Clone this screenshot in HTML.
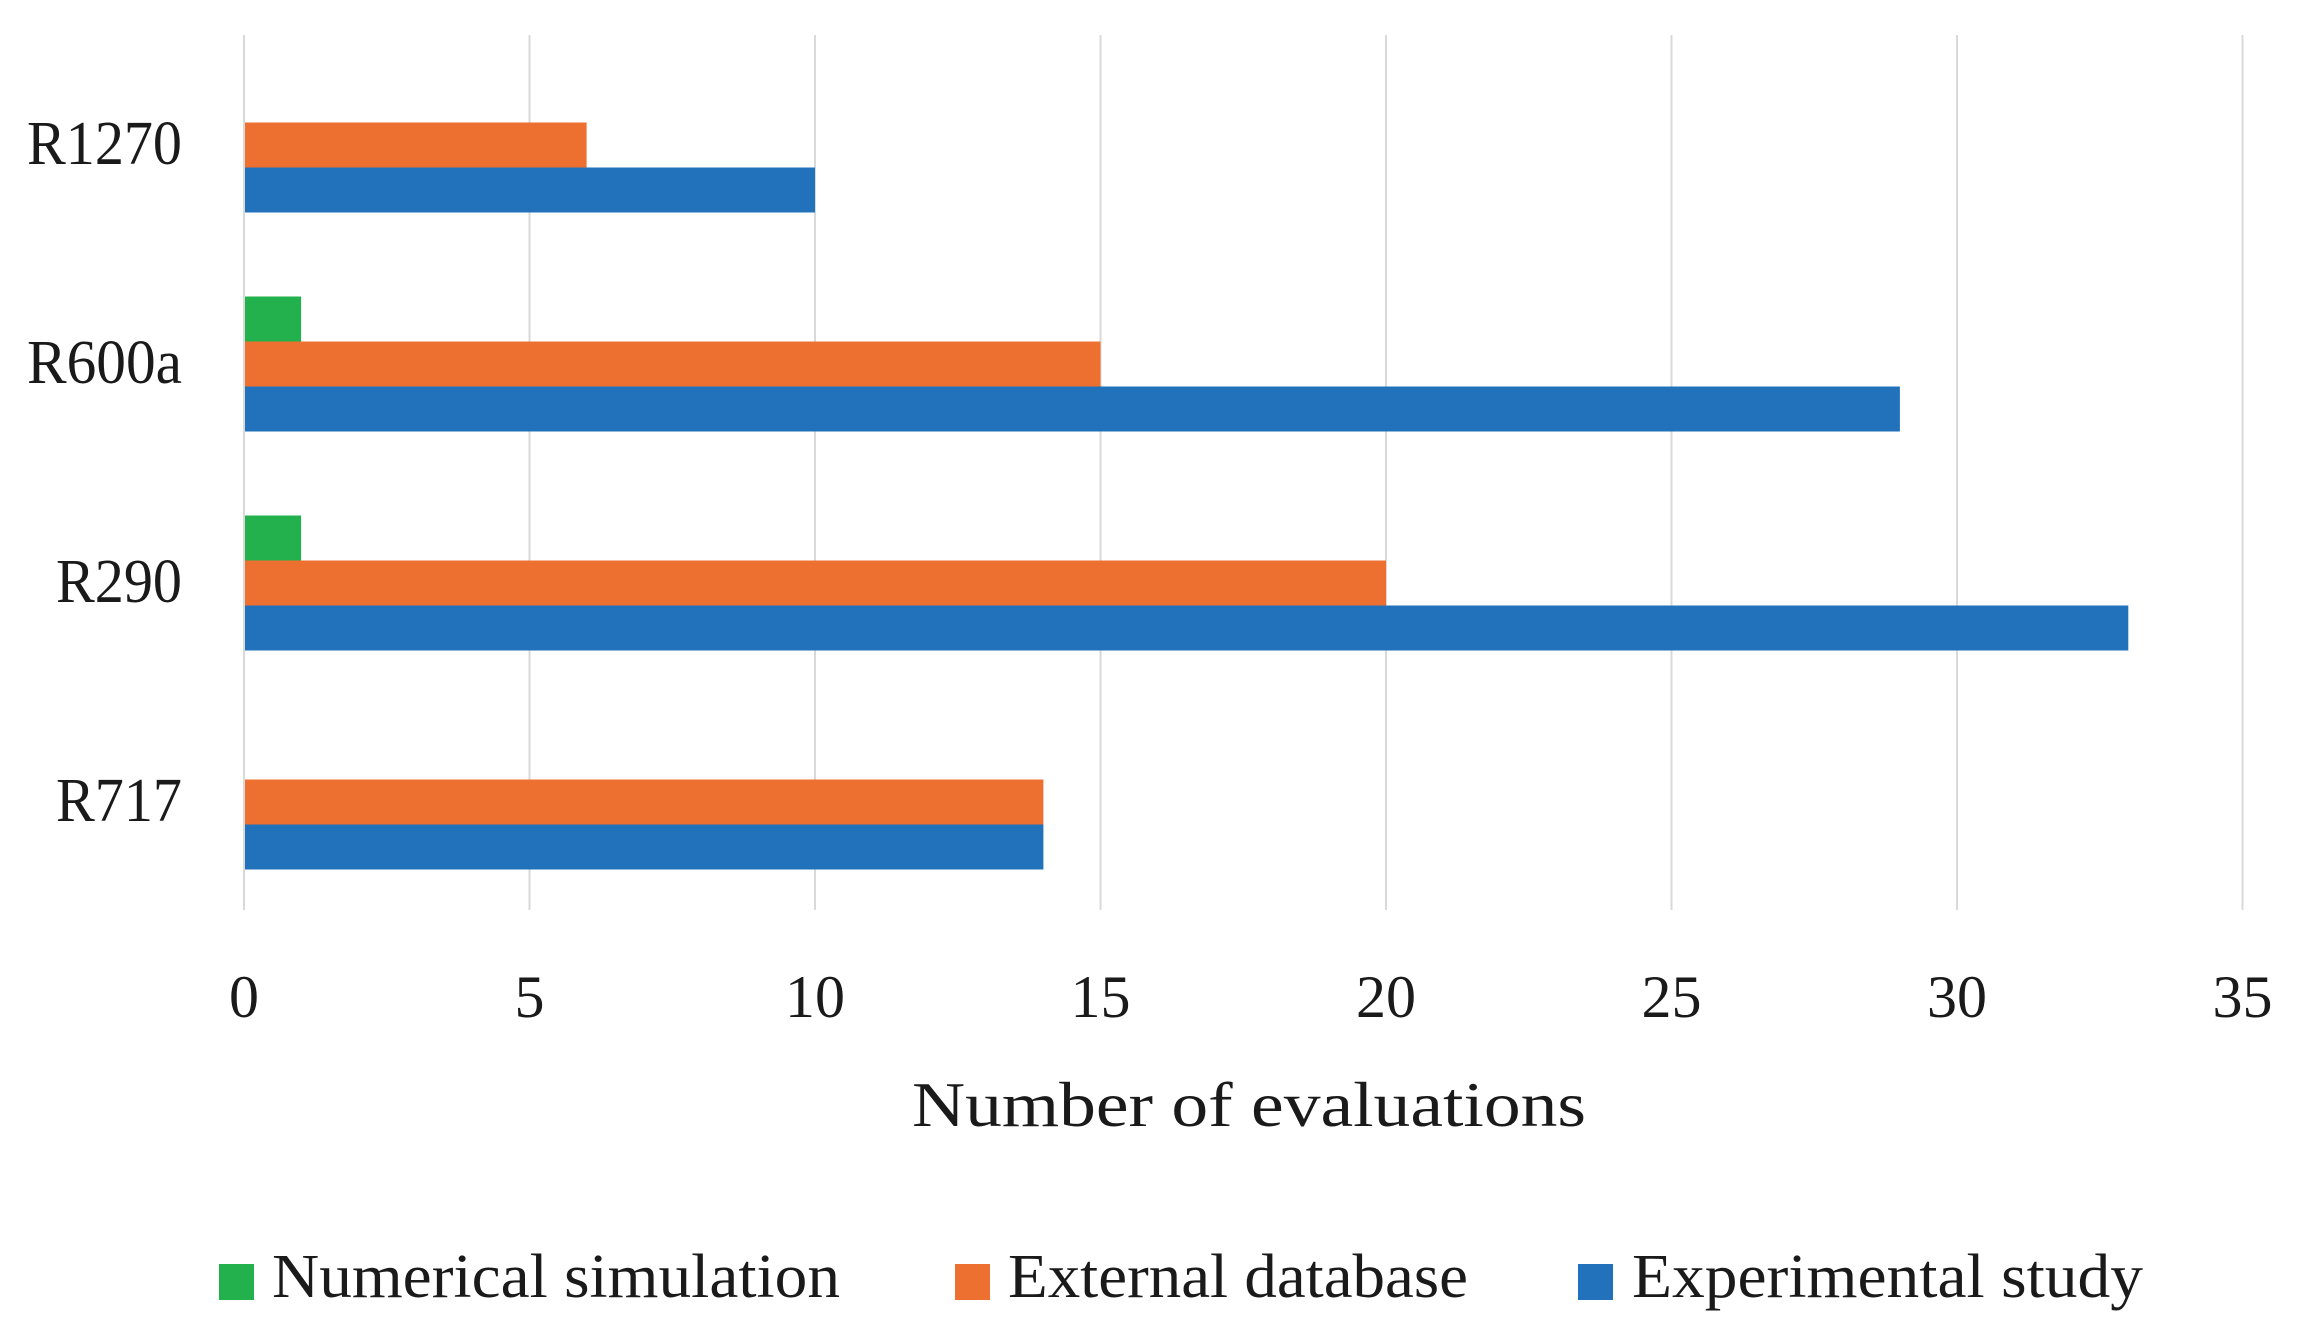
<!DOCTYPE html>
<html><head><meta charset="utf-8"><style>
html,body{margin:0;padding:0;background:#fff;}
svg{display:block;}
text{font-family:"Liberation Serif",serif;fill:#1a1a1a;}
</style></head><body>
<svg id="chart" width="2306" height="1342" viewBox="0 0 2306 1342" xmlns="http://www.w3.org/2000/svg">
<g id="grid"></g>
<g id="bars"></g>
<g id="xticks"></g>
<g id="cats"></g>
<text x="1249" y="1126" font-size="64" text-anchor="middle" textLength="674" lengthAdjust="spacingAndGlyphs">Number of evaluations</text>
<g>
 <g>
  <rect x="219" y="1264" width="35" height="36" fill="#22b14c"/>
  <text x="272" y="1297" font-size="62" textLength="568" lengthAdjust="spacingAndGlyphs">Numerical simulation</text>
 </g>
 <g>
  <rect x="955" y="1264" width="35" height="36" fill="#ed7030"/>
  <text x="1008" y="1297" font-size="62" textLength="460" lengthAdjust="spacingAndGlyphs">External database</text>
 </g>
 <g>
  <rect x="1578" y="1264" width="35" height="36" fill="#2272bb"/>
  <text x="1632" y="1297" font-size="62" textLength="511" lengthAdjust="spacingAndGlyphs">Experimental study</text>
 </g>
</g>
</svg>
<script>
const categories = ["R1270", "R600a", "R290", "R717"];
const numericalSimulation = [0, 1, 1, 0];
const externalDatabase = [6, 15, 20, 14];
const experimentalStudy = [10, 29, 33, 14];
const xTicks = [0, 5, 10, 15, 20, 25, 30, 35];

const NS = "http://www.w3.org/2000/svg";
const x0 = 244, unit = 57.1;
const xScale = v => x0 + v * unit;
const bandTop = 35, bandStep = 219, firstCenter = 145, barH = 45;
const yCenter = i => firstCenter + i * bandStep;

const grid = document.getElementById('grid');
xTicks.forEach(t => {
  const l = document.createElementNS(NS, 'line');
  l.setAttribute('x1', xScale(t)); l.setAttribute('x2', xScale(t));
  l.setAttribute('y1', bandTop); l.setAttribute('y2', 910);
  l.setAttribute('stroke', '#d9d9d9'); l.setAttribute('stroke-width', '2');
  
  
  grid.appendChild(l);
  const tx = document.createElementNS(NS, 'text');
  tx.setAttribute('x', xScale(t)); tx.setAttribute('y', 1017);
  tx.setAttribute('font-size', '60'); tx.setAttribute('text-anchor', 'middle');
  tx.textContent = t;
  
  
  document.getElementById('xticks').appendChild(tx);
});

const series = [
  {vals: numericalSimulation, color: '#22b14c', off: -1, name: 'numerical-simulation'},
  {vals: externalDatabase, color: '#ed7030', off: 0, name: 'external-database'},
  {vals: experimentalStudy, color: '#2272bb', off: 1, name: 'experimental-study'}
];
const bars = document.getElementById('bars');
categories.forEach((c, i) => {
  series.forEach(s => {
    const v = s.vals[i];
    if (v <= 0) return;
    const r = document.createElementNS(NS, 'rect');
    r.setAttribute('x', xScale(0) + 1);
    r.setAttribute('y', yCenter(i) + s.off * barH - barH / 2);
    r.setAttribute('width', xScale(v) - xScale(0) - 1);
    r.setAttribute('height', barH);
    r.setAttribute('fill', s.color);
    
    
    bars.appendChild(r);
  });
  const t = document.createElementNS(NS, 'text');
  t.setAttribute('x', 182); t.setAttribute('y', yCenter(i) + 19);
  t.setAttribute('font-size', '62'); t.setAttribute('text-anchor', 'end');
  t.setAttribute('textLength', c.length === 5 ? 155 : 126);
  t.setAttribute('lengthAdjust', 'spacingAndGlyphs');
  t.textContent = c;
  
  
  document.getElementById('cats').appendChild(t);
});
</script>
</body></html>
